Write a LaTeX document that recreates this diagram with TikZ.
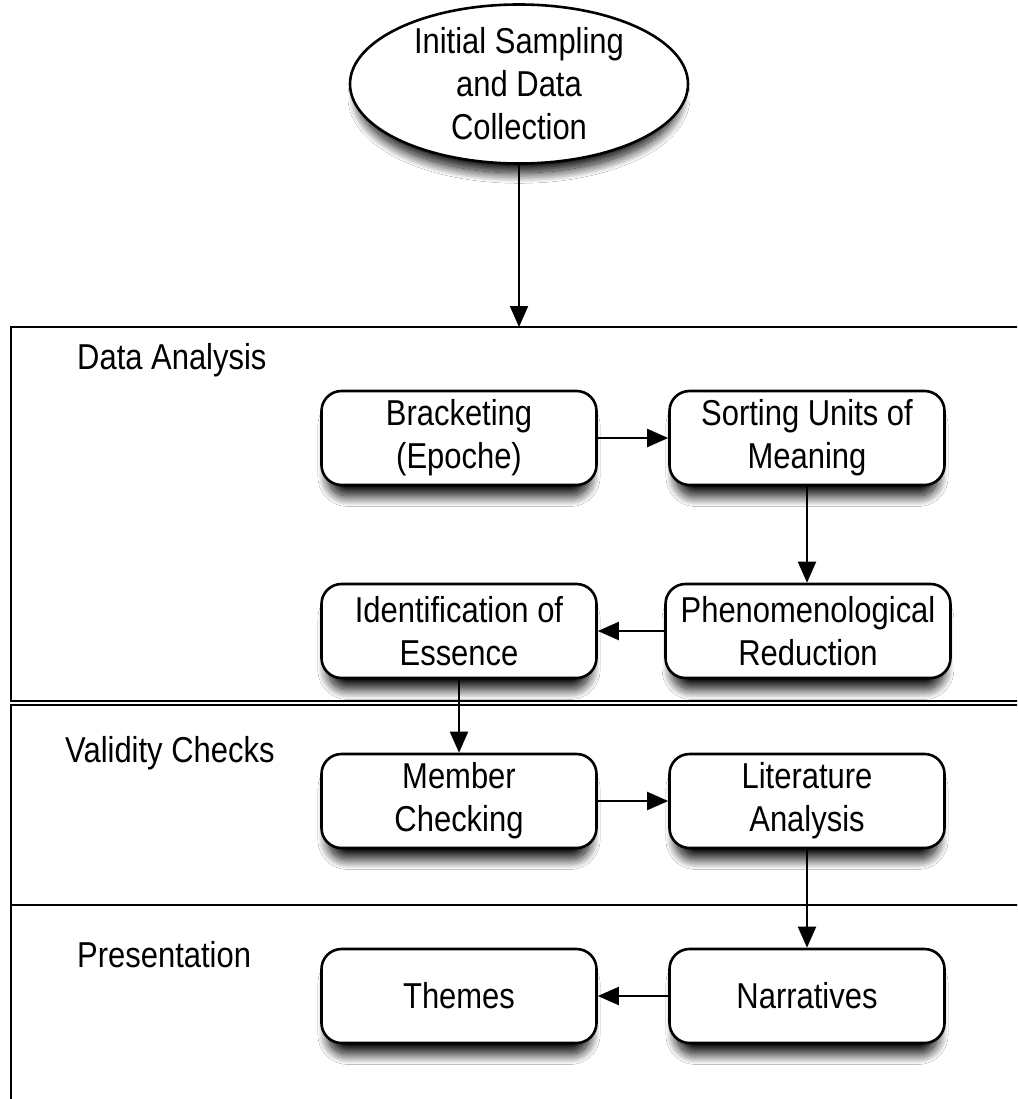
\documentclass[tikz,border=0pt]{standalone}
\usepackage{fontspec}
\setmainfont[FakeStretch=0.86]{Liberation Sans}
\usetikzlibrary{shapes.geometric,shadows.blur,arrows.meta}
\begin{document}
\begin{tikzpicture}[x=1pt,y=-1pt,
  every node/.style={font=\fontsize{36}{43}\selectfont},
  softshadow/.style={blur shadow={shadow xshift=0pt, shadow yshift=-14pt,
      shadow blur radius=11pt, shadow scale=0.95, shadow blur steps=25,
      shadow opacity=100}},
  procbox/.style={draw, line width=2.6pt, rounded corners=20pt, fill=white,
      minimum width=275pt, minimum height=94pt, align=center, inner sep=0pt,
      softshadow},
  startnode/.style={ellipse, draw, line width=2.6pt, fill=white,
      minimum width=338pt, minimum height=147pt, align=center, inner sep=0pt,
      softshadow},
  lane/.style={draw, line width=2pt},
  lanelabel/.style={anchor=west, inner sep=0pt},
  flow/.style={line width=2pt, -{Triangle[length=21pt,width=18pt]}}]
\useasboundingbox (0,0) rectangle (1017,1099);
\clip (0,0) rectangle (1017,1099);
\fill[white] (0,0) rectangle (1017,1099);

% swimlane frames (open to the right and bottom)
\draw[lane] (11,327) rectangle (1040,701);
\draw[lane] (11,705) rectangle (1040,905);
\draw[lane] (11,905) rectangle (1040,1130);
\coordinate (daTop) at (519,327);

\node[lanelabel] (laneA) at (77,360) {Data Analysis};
\node[lanelabel] (laneV) at (65,753) {Validity Checks};
\node[lanelabel] (laneP) at (77,955) {Presentation};

% start
\node[startnode] (start) at (519,84) {Initial Sampling\\and Data\\Collection};

% process steps
\node[procbox] (brack) at (459,438) {Bracketing\\(Epoche)};
\node[procbox] (sort)  at (807,438) {Sorting Units of\\Meaning};
\node[procbox, minimum width=285pt] (phen) at (808,631) {Phenomenological\\Reduction};
\node[procbox] (ident) at (459,631) {Identification of\\Essence};
\node[procbox] (member) at (459,801) {Member\\Checking};
\node[procbox] (lit)   at (807,801) {Literature\\Analysis};
\node[procbox] (themes) at (459,996) {Themes};
\node[procbox] (narr)  at (807,996) {Narratives};

% connectors
\draw[flow] (start.south) -- (daTop);
\draw[flow] (brack.east) -- (sort.west);
\draw[flow] (sort.south) -- (sort.south |- phen.north);
\draw[flow] (phen.west) -- (ident.east);
\draw[flow] (ident.south) -- (member.north);
\draw[flow] (member.east) -- (lit.west);
\draw[flow] (lit.south) -- (narr.north);
\draw[flow] (narr.west) -- (themes.east);
\end{tikzpicture}
\end{document}
